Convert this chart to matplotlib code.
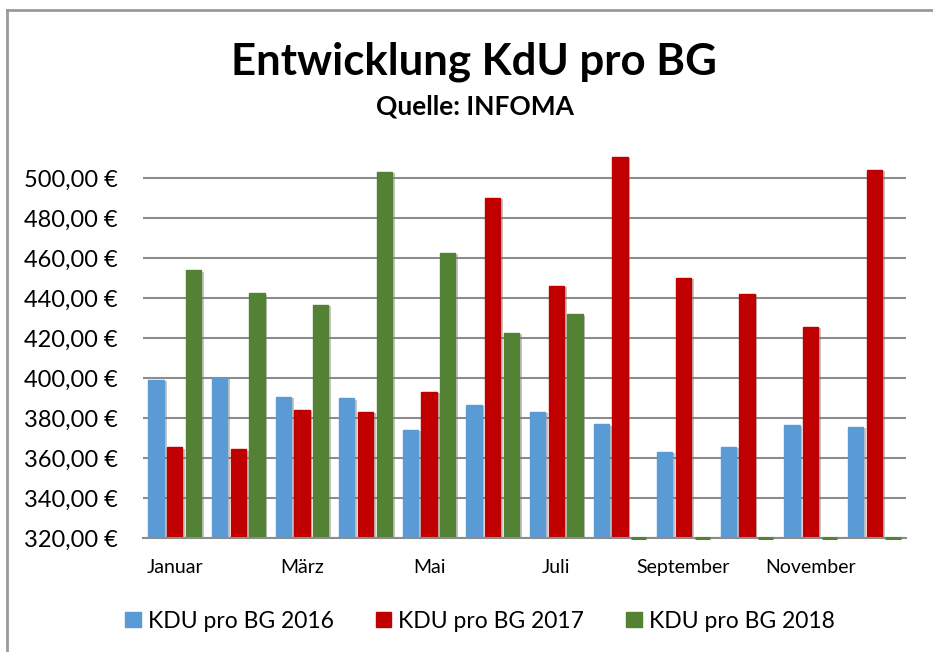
import numpy as np
import matplotlib
matplotlib.use("Agg")
import matplotlib.pyplot as plt
from matplotlib.ticker import FuncFormatter, FixedLocator
from matplotlib.lines import Line2D
import matplotlib.patheffects as pe

plt.rcParams['font.family'] = ['Lato', 'DejaVu Sans']

months = ["Januar", "Februar", "März", "April", "Mai", "Juni", "Juli",
          "August", "September", "Oktober", "November", "Dezember"]
series_names = ["KDU pro BG 2016", "KDU pro BG 2017", "KDU pro BG 2018"]
kdu_2016 = [399.2, 400.0, 390.5, 389.8, 374.2, 386.7, 383.2, 376.8, 363.2, 365.7, 376.3, 375.5]
kdu_2017 = [365.4, 364.3, 384.0, 383.0, 393.0, 490.0, 446.2, 510.5, 450.2, 442.2, 425.5, 504.0]
kdu_2018 = [453.9, 442.3, 436.5, 503.2, 462.5, 422.7, 431.8, None, None, None, None, None]
colors = ["#5B9BD5", "#C00000", "#548235"]

y_min, y_max = 320, 511

fig = plt.figure(figsize=(9.33, 6.52), dpi=100)
ax = fig.add_axes([143 / 933, 114 / 652, 763 / 933, 382 / 652])

x = np.arange(len(months))
spacing, width = 0.294, 0.24
shadow = [pe.SimplePatchShadow(offset=(2.0, -1.0), shadow_rgbFace="#808080", alpha=0.45),
          pe.Normal()]

for k, (vals, col) in enumerate(zip([kdu_2016, kdu_2017, kdu_2018], colors)):
    v = np.array([np.nan if a is None else a for a in vals], dtype=float)
    missing = np.isnan(v)
    v = np.where(missing, y_min, v)
    bars = ax.bar(x + (k - 1) * spacing, v - y_min, bottom=y_min, width=width,
                  color=col, edgecolor=col, linewidth=1.0, zorder=3)
    for b, m in zip(bars, missing):
        if m:
            # empty months sit on the axis floor as a flat marker
            b.set_clip_on(False)
            b.set_linewidth(2.2)
            b.set_zorder(4)
        else:
            b.set_path_effects(shadow)

ax.set_xlim(-0.5, len(months) - 0.5)
ax.set_ylim(y_min, y_max)

ax.yaxis.set_major_locator(FixedLocator(np.arange(320, 501, 20)))
ax.yaxis.set_major_formatter(FuncFormatter(
    lambda v, p: f"{v:,.2f} €".replace(",", "X").replace(".", ",").replace("X", ".")))
ax.grid(axis="y", color="#8C8C8C", linewidth=1.5, zorder=0)
ax.set_axisbelow(True)

tick_idx = x[::2]
ax.set_xticks(tick_idx)
ax.set_xticklabels([months[i] for i in tick_idx])

for s in ["top", "right", "left"]:
    ax.spines[s].set_visible(False)
ax.spines["bottom"].set_color("#8C8C8C")
ax.spines["bottom"].set_linewidth(1.5)
ax.spines["bottom"].set_zorder(3.5)

ax.tick_params(axis="y", length=0, pad=18, labelsize=17, labelcolor="black")
ax.tick_params(axis="x", length=0, pad=15, labelsize=14, labelcolor="black")

fig.text(474 / 933, 1 - 62 / 652, "Entwicklung KdU pro BG", ha="center", va="center",
         fontsize=31.5, fontweight="bold")
fig.text(475 / 933, 1 - 107 / 652, "Quelle: INFOMA", ha="center", va="center",
         fontsize=19, fontweight="bold")

handles = [plt.Rectangle((0, 0), 1, 1, color=c) for c in colors]
fig.legend(handles, series_names, loc="center", bbox_to_anchor=(480 / 933, 1 - 621 / 652),
           ncol=3, frameon=False, fontsize=16.5, handlelength=0.68, handleheight=0.68,
           handletextpad=0.3, columnspacing=1.83)

# outer chart border (top and left edges)
fig.add_artist(Line2D([7 / 933, 1.0], [1 - 9.5 / 652, 1 - 9.5 / 652], transform=fig.transFigure,
                      color="#9A9A9A", linewidth=2))
fig.add_artist(Line2D([7 / 933, 7 / 933], [1 - 9.5 / 652, 0.0], transform=fig.transFigure,
                      color="#9A9A9A", linewidth=2))

fig.savefig("out.png", dpi=100)
